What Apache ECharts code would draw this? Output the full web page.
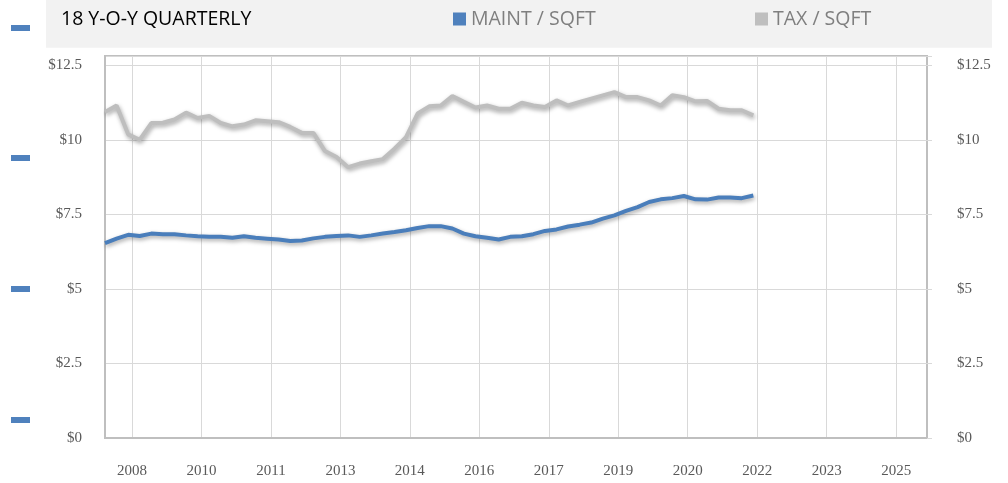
<!DOCTYPE html>
<html>
<head>
<meta charset="utf-8">
<script src="https://cdn.jsdelivr.net/npm/echarts@6/dist/echarts.min.js"></script>
<style>html,body{margin:0;padding:0;background:#fff;}#c{width:1008px;height:483px;}</style>
</head>
<body>
<div id="c"></div>
<script>
// monthly category axis Dec 2007 .. Sep 2025
const months = [];
for (let i = 0; i < 214; i++) {
  const d = new Date(2007, 11 + i, 1);
  months.push(d.getFullYear() + '-' + String(d.getMonth() + 1).padStart(2, '0'));
}
// quarterly observation dates Dec 2007 .. Dec 2021
const quarters = months.filter((m, i) => i % 3 === 0 && i <= 168);

const maintSqft = [6.54,6.69,6.82,6.78,6.86,6.84,6.84,6.80,6.77,6.75,6.75,6.72,6.77,6.72,6.69,6.66,
  6.61,6.63,6.70,6.75,6.78,6.80,6.75,6.80,6.86,6.91,6.97,7.05,7.11,7.11,7.03,6.86,6.77,6.72,6.66,
  6.75,6.77,6.84,6.95,7.00,7.10,7.16,7.23,7.36,7.47,7.62,7.75,7.92,8.01,8.05,8.12,8.01,8.00,8.07,
  8.07,8.05,8.14];
const taxSqft = [10.94,11.16,10.19,10.01,10.57,10.58,10.69,10.92,10.74,10.81,10.57,10.46,10.52,10.66,
  10.63,10.60,10.44,10.24,10.24,9.63,9.43,9.09,9.21,9.29,9.36,9.71,10.10,10.89,11.13,11.16,11.48,
  11.28,11.09,11.16,11.05,11.05,11.25,11.16,11.11,11.33,11.16,11.28,11.39,11.50,11.61,11.44,11.44,
  11.33,11.16,11.50,11.44,11.30,11.31,11.05,11.00,11.00,10.83];

const titleText = '18 Y-O-Y QUARTERLY';
const seriesNames = ['MAINT / SQFT', 'TAX / SQFT'];

const tickEvery = (idx) => idx >= 7 && (idx - 7) % 18 === 0;
const yFmt = (v) => (Math.abs(v / 2.5 - Math.round(v / 2.5)) < 1e-6) ? '$' + v : '';

const chart = echarts.init(document.getElementById('c'));
const axisGrey = '#bfbfbf';
const gridGrey = '#d9d9d9';
const labelStyle = { color: '#595959', fontFamily: 'Liberation Serif', fontSize: 15 };
const lineShadow = { shadowColor: 'rgba(0,0,0,0.35)', shadowBlur: 4, shadowOffsetX: 1, shadowOffsetY: 2 };

chart.setOption({
  animation: false,
  graphic: [
    { type: 'rect', z: -10, shape: { x: 46, y: 0, width: 946, height: 47.7 }, style: { fill: '#f2f2f2' } },
    { type: 'rect', shape: { x: 11, y: 25, width: 19, height: 6 }, style: { fill: '#4f81bd' } },
    { type: 'rect', shape: { x: 11, y: 155, width: 19, height: 6 }, style: { fill: '#4f81bd' } },
    { type: 'rect', shape: { x: 11, y: 286, width: 19, height: 6 }, style: { fill: '#4f81bd' } },
    { type: 'rect', shape: { x: 11, y: 417, width: 19, height: 6 }, style: { fill: '#4f81bd' } }
  ],
  title: {
    text: titleText, left: 56, top: 0,
    textStyle: { fontFamily: 'Open Sans', fontSize: 19.5, fontWeight: 'normal', color: '#000', lineHeight: 28 }
  },
  legend: [
    { data: [seriesNames[0]], left: 448, top: 0, icon: 'rect', itemWidth: 13, itemHeight: 13, itemGap: 5,
      textStyle: { fontFamily: 'Open Sans', fontSize: 19.5, color: '#7f7f7f', lineHeight: 28 } },
    { data: [seriesNames[1]], left: 750, top: 0, icon: 'rect', itemWidth: 13, itemHeight: 13, itemGap: 5,
      textStyle: { fontFamily: 'Open Sans', fontSize: 19.5, color: '#7f7f7f', lineHeight: 28 } }
  ],
  grid: { left: 105, width: 822, top: 56, height: 382, show: true, borderColor: axisGrey, borderWidth: 2 },
  xAxis: {
    type: 'category', data: months, boundaryGap: false,
    axisLine: { show: true, lineStyle: { color: axisGrey, width: 2 } },
    axisTick: { show: false },
    axisLabel: { interval: tickEvery, formatter: (v) => v.slice(0, 4), margin: 26, ...labelStyle },
    splitLine: { show: true, interval: tickEvery, lineStyle: { color: gridGrey, width: 1 } }
  },
  yAxis: [
    { type: 'value', min: 0, max: 12.82, interval: 2.5, position: 'left',
      axisLine: { show: true, lineStyle: { color: axisGrey, width: 2 } },
      axisTick: { show: false },
      axisLabel: { formatter: yFmt, margin: 23, ...labelStyle },
      splitLine: { show: true, lineStyle: { color: gridGrey, width: 1 } } },
    { type: 'value', min: 0, max: 12.82, interval: 2.5, position: 'right',
      axisLine: { show: false },
      axisTick: { show: true, length: 5, lineStyle: { color: gridGrey, width: 1 } },
      axisLabel: { formatter: yFmt, margin: 30, ...labelStyle },
      splitLine: { show: false } }
  ],
  series: [
    { name: seriesNames[0], type: 'line', symbol: 'none', color: '#4f81bd',
      data: quarters.map((q, i) => [q, maintSqft[i]]),
      lineStyle: { width: 4, color: '#4a7ebb', ...lineShadow } },
    { name: seriesNames[1], type: 'line', symbol: 'none', color: '#bfbfbf',
      data: quarters.map((q, i) => [q, taxSqft[i]]),
      lineStyle: { width: 4, color: '#bebebe', ...lineShadow } }
  ]
});
</script>
</body>
</html>
